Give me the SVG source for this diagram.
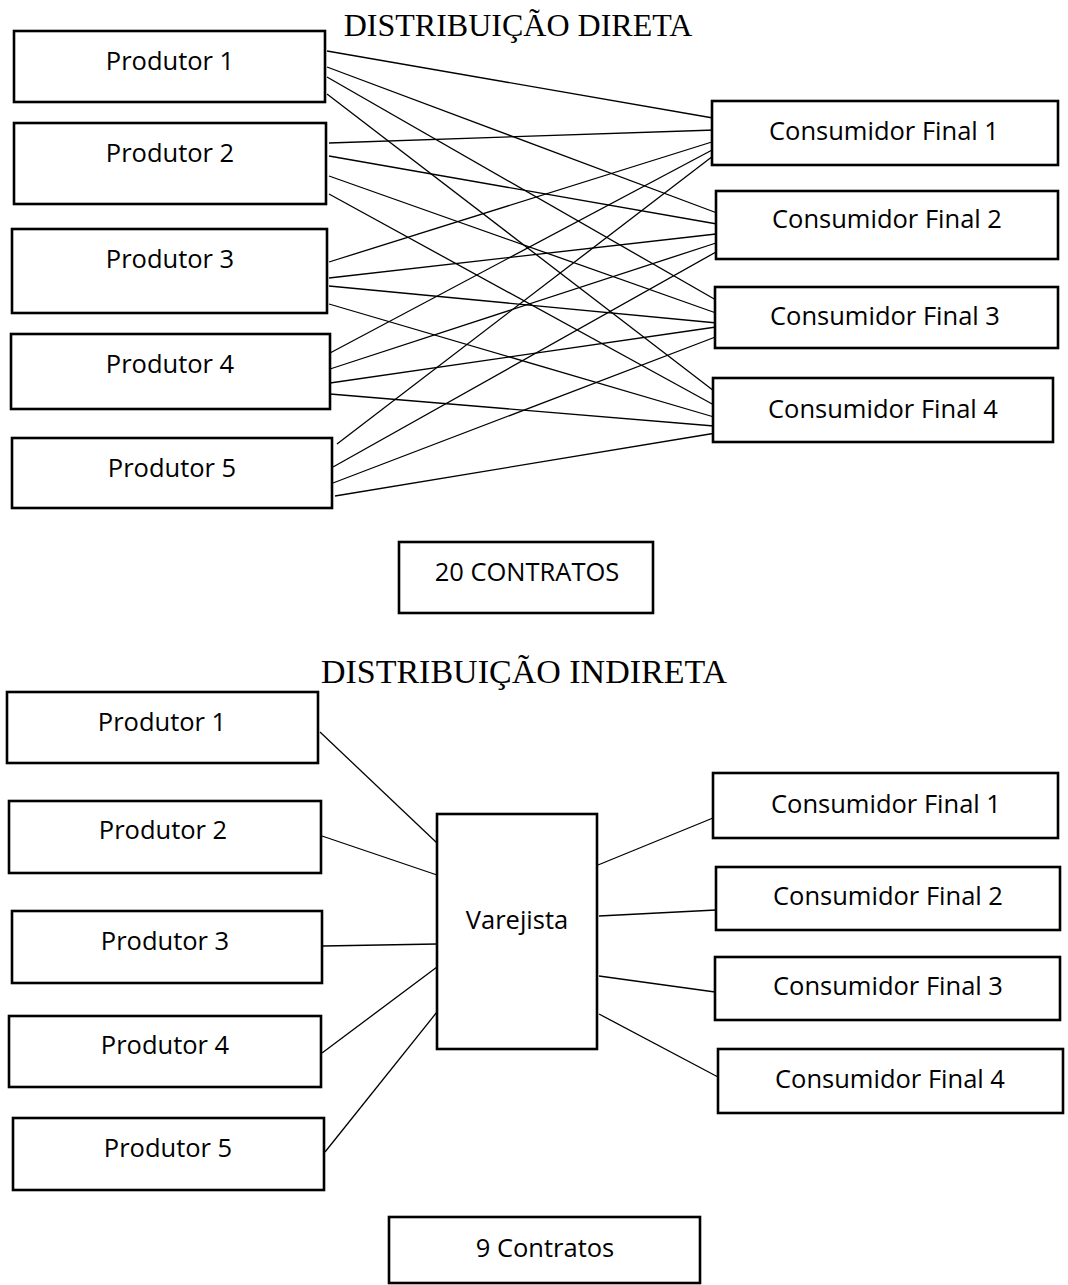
<svg xmlns="http://www.w3.org/2000/svg" width="1068" height="1285" viewBox="0 0 1068 1285">
<style>
.box{fill:#fff;stroke:#000;stroke-width:2.6}
.lbl{font-family:"Open Sans","Liberation Sans",sans-serif;font-size:25.5px;fill:#000;text-anchor:middle}
.ttl{font-family:"Liberation Serif","Times New Roman",serif;fill:#000;text-anchor:middle}
#connectors line{stroke:#000;stroke-width:1.3;fill:none}
</style>
<rect width="1068" height="1285" fill="#fff"/>
<text class="ttl" x="518" y="36" font-size="32">DISTRIBUIÇÃO DIRETA</text>
<text class="ttl" x="524" y="683" font-size="34">DISTRIBUIÇÃO INDIRETA</text>

<g id="connectors">
<!-- direct -->
<line x1="327" y1="51" x2="713" y2="118"/>
<line x1="327" y1="67" x2="717" y2="213"/>
<line x1="327" y1="77" x2="716" y2="300"/>
<line x1="327" y1="94" x2="714" y2="391"/>
<line x1="329" y1="143" x2="715" y2="130"/>
<line x1="329" y1="156" x2="717" y2="224"/>
<line x1="329" y1="176" x2="716" y2="313"/>
<line x1="329" y1="194" x2="714" y2="405"/>
<line x1="329" y1="262" x2="715" y2="141"/>
<line x1="329" y1="278" x2="716" y2="234"/>
<line x1="329" y1="286" x2="717" y2="323"/>
<line x1="329" y1="304" x2="714" y2="417"/>
<line x1="330" y1="353" x2="714" y2="149"/>
<line x1="330" y1="369" x2="716" y2="243"/>
<line x1="330" y1="383" x2="716" y2="327"/>
<line x1="330" y1="394" x2="714" y2="426"/>
<line x1="337" y1="444" x2="713" y2="156"/>
<line x1="333" y1="467" x2="716" y2="252"/>
<line x1="333" y1="483" x2="718" y2="336"/>
<line x1="335" y1="496" x2="716" y2="433"/>
<!-- indirect -->
<line x1="320" y1="732" x2="437" y2="843"/>
<line x1="322" y1="836" x2="437" y2="875"/>
<line x1="323" y1="946" x2="437" y2="944"/>
<line x1="322" y1="1053" x2="437" y2="967"/>
<line x1="325" y1="1152" x2="437" y2="1012"/>
<line x1="598" y1="865" x2="713" y2="818"/>
<line x1="599" y1="916" x2="716" y2="910"/>
<line x1="599" y1="976" x2="715" y2="992"/>
<line x1="599" y1="1014" x2="718" y2="1077"/>
</g>

<g id="d-p1"><rect class="box" x="14" y="31" width="311" height="71"/><text class="lbl" x="170" y="70">Produtor 1</text></g>
<g id="d-p2"><rect class="box" x="14" y="123" width="312" height="81"/><text class="lbl" x="170" y="162">Produtor 2</text></g>
<g id="d-p3"><rect class="box" x="12" y="229" width="315" height="84"/><text class="lbl" x="170" y="268">Produtor 3</text></g>
<g id="d-p4"><rect class="box" x="11" y="334" width="319" height="75"/><text class="lbl" x="170" y="373">Produtor 4</text></g>
<g id="d-p5"><rect class="box" x="12" y="438" width="320" height="70"/><text class="lbl" x="172" y="477">Produtor 5</text></g>

<g id="d-c1"><rect class="box" x="712" y="101" width="346" height="64"/><text class="lbl" x="884" y="140">Consumidor Final 1</text></g>
<g id="d-c2"><rect class="box" x="716" y="191" width="342" height="68"/><text class="lbl" x="887" y="228">Consumidor Final 2</text></g>
<g id="d-c3"><rect class="box" x="715" y="287" width="343" height="61"/><text class="lbl" x="885" y="325">Consumidor Final 3</text></g>
<g id="d-c4"><rect class="box" x="713" y="378" width="340" height="64"/><text class="lbl" x="883" y="418">Consumidor Final 4</text></g>

<g id="d-total"><rect class="box" x="399" y="542" width="254" height="71"/><text class="lbl" x="527" y="581">20 CONTRATOS</text></g>

<g id="i-p1"><rect class="box" x="7" y="692" width="311" height="71"/><text class="lbl" x="162" y="731">Produtor 1</text></g>
<g id="i-p2"><rect class="box" x="9" y="801" width="312" height="72"/><text class="lbl" x="163" y="839">Produtor 2</text></g>
<g id="i-p3"><rect class="box" x="12" y="911" width="310" height="72"/><text class="lbl" x="165" y="950">Produtor 3</text></g>
<g id="i-p4"><rect class="box" x="9" y="1016" width="312" height="71"/><text class="lbl" x="165" y="1054">Produtor 4</text></g>
<g id="i-p5"><rect class="box" x="13" y="1118" width="311" height="72"/><text class="lbl" x="168" y="1157">Produtor 5</text></g>

<g id="i-var"><rect class="box" x="437" y="814" width="160" height="235"/><text class="lbl" x="517" y="929">Varejista</text></g>

<g id="i-c1"><rect class="box" x="713" y="773" width="345" height="65"/><text class="lbl" x="886" y="813">Consumidor Final 1</text></g>
<g id="i-c2"><rect class="box" x="716" y="867" width="344" height="63"/><text class="lbl" x="888" y="905">Consumidor Final 2</text></g>
<g id="i-c3"><rect class="box" x="715" y="957" width="345" height="63"/><text class="lbl" x="888" y="995">Consumidor Final 3</text></g>
<g id="i-c4"><rect class="box" x="718" y="1049" width="345" height="64"/><text class="lbl" x="890" y="1088">Consumidor Final 4</text></g>

<g id="i-total"><rect class="box" x="389" y="1217" width="311" height="66"/><text class="lbl" x="545" y="1257">9 Contratos</text></g>
</svg>
